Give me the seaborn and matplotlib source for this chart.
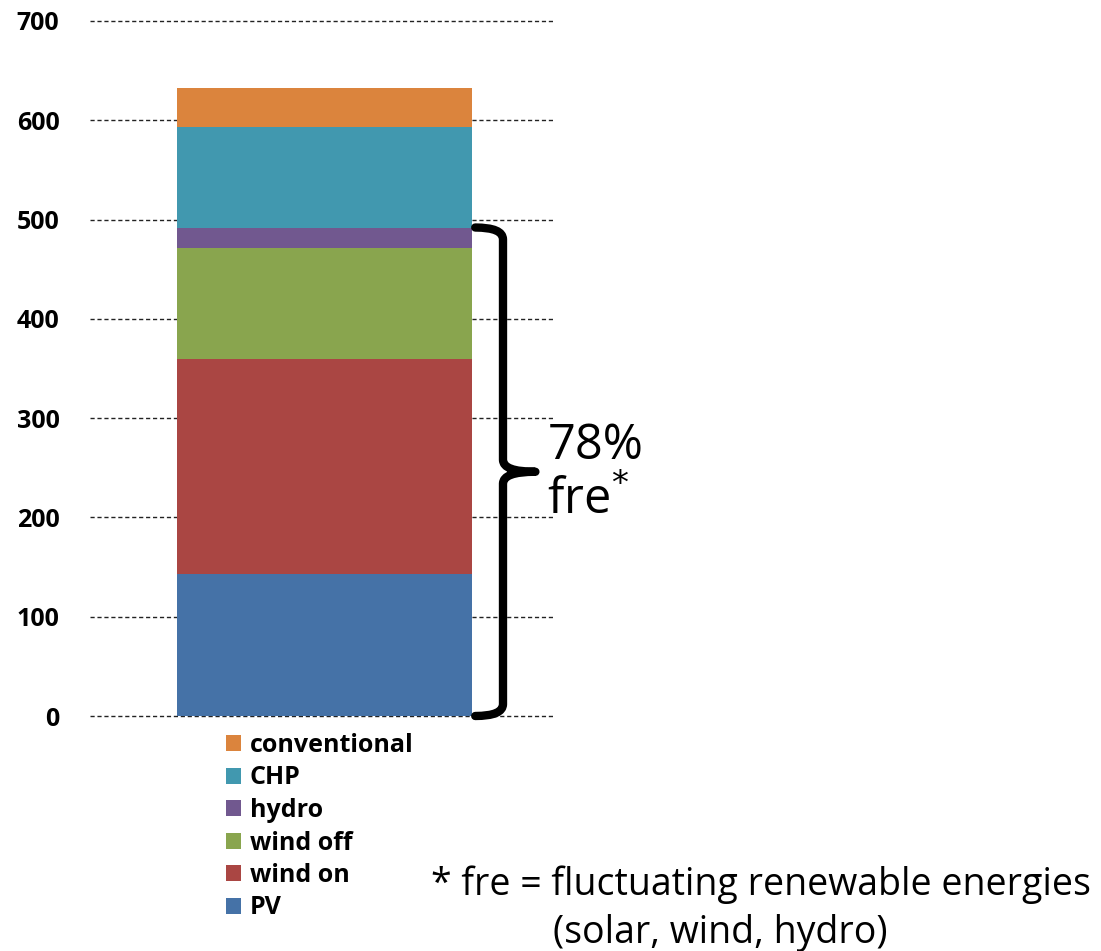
import numpy as np
import pandas as pd
import matplotlib.pyplot as plt
from matplotlib.patches import Patch, PathPatch
from matplotlib.path import Path
import seaborn as sns

# stacked values, bottom to top
sources = ['PV', 'wind on', 'wind off', 'hydro', 'CHP', 'conventional']
values = [143, 217, 111, 21, 101, 40]
colors = ['#4572A7', '#AA4643', '#89A54E', '#71588F', '#4198AF', '#DB843D']
fre_sources = ['PV', 'wind on', 'wind off', 'hydro']
y_ticks = [0, 100, 200, 300, 400, 500, 600, 700]

sns.set_theme(style='white')
plt.rcParams['font.family'] = ['Open Sans', 'DejaVu Sans']
plt.rcParams['text.color'] = 'black'
plt.rcParams['ytick.color'] = 'black'

df = pd.DataFrame({'source': sources, 'value': values, 'color': colors})
df['cum'] = df['value'].cumsum()
fre_total = df.loc[df['source'].isin(fre_sources), 'value'].sum()
share = 100 * fre_total / df['value'].sum()

fig = plt.figure(figsize=(11.01, 9.51), dpi=100)
ax = fig.add_axes([90 / 1101, 1 - 716 / 951, 463 / 1101, 695 / 951])

# overlapping cumulative bars give the stacked look (top layer drawn first)
for _, row in df.iloc[::-1].iterrows():
    sns.barplot(x=['mix'], y=[row['cum']], color=row['color'], width=0.637,
                saturation=1, linewidth=0, ax=ax)

ax.set_xlim(-0.507, 0.493)
ax.set_ylim(0, 700)
ax.set_yticks(y_ticks)
ax.set_xticks([])
ax.set_xlabel('')
ax.set_ylabel('')
ax.set_axisbelow(True)
ax.yaxis.grid(True, linestyle=(0, (3, 2)), color='#222222', linewidth=1)
for gl in ax.get_ygridlines():
    gl.set_clip_on(False)
ax.tick_params(axis='y', length=0, pad=22, labelsize=18)
for lbl in ax.get_yticklabels():
    lbl.set_fontweight('bold')
for sp in ax.spines.values():
    sp.set_visible(False)

# curly brace over the fluctuating renewables
x0, x1, x2 = 0.325, 0.385, 0.455
top, bot = fre_total, 0
mid = (top + bot) / 2
r = 12
verts = [(x0, top), (x1, top), (x1, top - r),
         (x1, mid + r), (x1, mid), (x2, mid),
         (x1, mid), (x1, mid - r),
         (x1, bot + r), (x1, bot), (x0, bot)]
codes = [Path.MOVETO, Path.CURVE3, Path.CURVE3,
         Path.LINETO, Path.CURVE3, Path.CURVE3,
         Path.CURVE3, Path.CURVE3,
         Path.LINETO, Path.CURVE3, Path.CURVE3]
brace = PathPatch(Path(verts, codes), facecolor='none', edgecolor='black',
                  linewidth=6, capstyle='round', joinstyle='round', clip_on=False)
ax.add_patch(brace)

ax.text(0.481, mid + 26, f'{share:.0f}%', fontsize=35, ha='left', va='center',
        clip_on=False)
ax.text(0.481, mid - 30, 'fre$^{*}$', fontsize=35, ha='left', va='center',
        clip_on=False)

# legend, top entry first
handles = [Patch(facecolor=c, edgecolor='none') for c in colors[::-1]]
leg = ax.legend(handles, sources[::-1], loc='upper left',
                bbox_to_anchor=(226 / 1101, 1 - 733 / 951),
                bbox_transform=fig.transFigure, frameon=False,
                handlelength=0.6, handleheight=0.6, handletextpad=0.35,
                labelspacing=0.3, borderpad=0, borderaxespad=0,
                prop={'size': 18, 'weight': 'bold'})

fig.text(431 / 1101, 1 - 885 / 951, '* fre = fluctuating renewable energies',
         fontsize=27, ha='left', va='center')
fig.text(553 / 1101, 1 - 933 / 951, '(solar, wind, hydro)',
         fontsize=27, ha='left', va='center')

fig.savefig('out.png', dpi=100)
